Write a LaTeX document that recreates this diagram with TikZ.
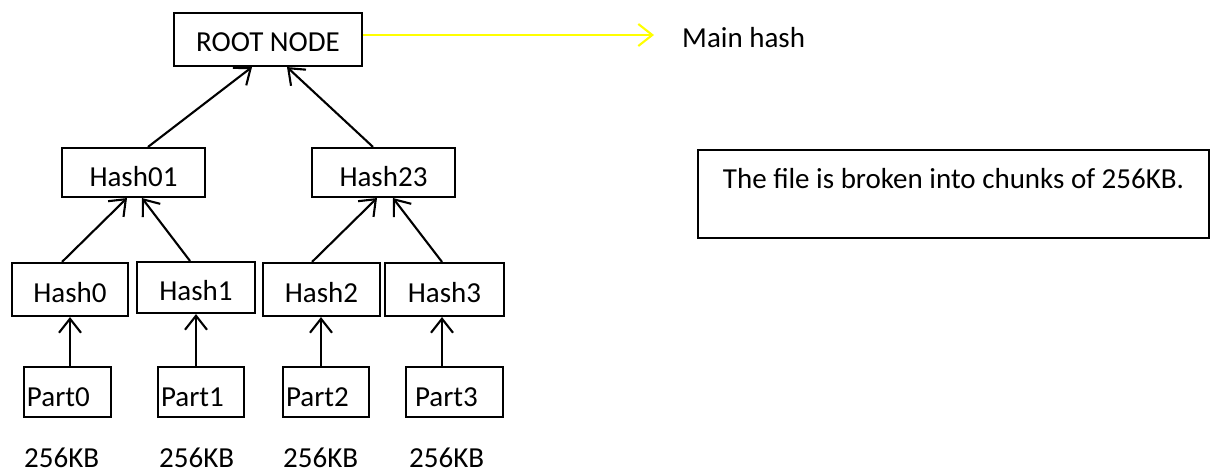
\documentclass[tikz,border=0pt]{standalone}
\usepackage{fontspec}
\setmainfont{Carlito}
\usetikzlibrary{arrows.meta}
\definecolor{hashyellow}{RGB}{255,255,0}
\tikzset{
  box/.style={draw=black, line width=2.1pt, inner sep=0pt, rectangle,
    text height=25pt, text depth=0pt, font=\fontsize{29}{34}\selectfont},
  partbox/.style={box, inner xsep=3pt, align=left, text height=28pt},
  plain/.style={inner sep=0pt, font=\fontsize{29}{34}\selectfont},
  link/.style={line width=2.1pt, -{Straight Barb[length=14pt,width=22pt]}},
}
\begin{document}
\begin{tikzpicture}[x=1pt,y=-1pt]
\useasboundingbox (0,0) rectangle (1216,473);

% tree of hashes
\node[box, minimum width=188pt, minimum height=53pt] (root) at (268,39.5) {ROOT NODE};
\node[box, minimum width=143pt, minimum height=49pt, text height=28pt] (h01) at (133.5,172.5) {Hash01};
\node[box, minimum width=143pt, minimum height=49pt, text height=28pt] (h23) at (383.5,172.5) {Hash23};

\node[box, minimum width=116pt, minimum height=53pt] (h0) at (70,289.5) {Hash0};
\node[box, minimum width=118pt, minimum height=51pt, text height=27pt] (h1) at (196,287.5) {Hash1};
\node[box, minimum width=117pt, minimum height=53pt] (h2) at (321.5,289.5) {Hash2};
\node[box, minimum width=119pt, minimum height=53pt] (h3) at (444.5,289.5) {Hash3};

% file parts
\node[partbox, text width=81pt, minimum height=50pt] (p0) at (67.5,392) {Part0};
\node[partbox, text width=80pt, minimum height=50pt] (p1) at (201,392) {Part1};
\node[partbox, text width=80pt, minimum height=50pt] (p2) at (326,392) {Part2};
\node[partbox, inner xsep=9pt, text width=79pt, minimum height=50pt] (p3) at (454.5,392) {Part3};

% chunk sizes
\node[plain, anchor=base west] (s0) at (24,467) {256KB};
\node[plain, anchor=base west] (s1) at (159,467) {256KB};
\node[plain, anchor=base west] (s2) at (283,467) {256KB};
\node[plain, anchor=base west] (s3) at (409,467) {256KB};

% parts to leaf hashes
\draw[link] (h0.south |- p0.north) -- (h0.south);
\draw[link] (h1.south |- p1.north) -- (h1.south);
\draw[link] ([xshift=-0.5pt]h2.south |- p2.north) -- ([xshift=-0.5pt]h2.south);
\draw[link] ([xshift=-2.5pt]h3.south |- p3.north) -- ([xshift=-2.5pt]h3.south);

% leaf hashes to pair hashes
\draw[link] ([xshift=-8pt]h0.north) -- ([xshift=-6.5pt]h01.south);
\draw[link] ([xshift=-6pt]h1.north) -- ([xshift=8.5pt]h01.south);
\draw[link] ([xshift=-9.5pt]h2.north) -- ([xshift=-6.5pt]h23.south);
\draw[link] ([xshift=-2.5pt]h3.north) -- ([xshift=9.5pt]h23.south);

% pair hashes to root
\draw[link] ([xshift=14.5pt]h01.north) -- ([xshift=-16pt]root.south);
\draw[link] ([xshift=-10.5pt]h23.north) -- ([xshift=19pt]root.south);

% root output
\coordinate (mainend) at (654,35);
\node[plain, anchor=base west] (main) at (682,48) {Main hash};
\draw[link, draw=hashyellow] ([yshift=4.5pt]root.east) -- (mainend);

% note
\node[box, minimum width=511pt, minimum height=88pt, text depth=35pt, text height=25pt] (note) at (953.5,194) {The file is broken into chunks of 256KB.};
\end{tikzpicture}
\end{document}
